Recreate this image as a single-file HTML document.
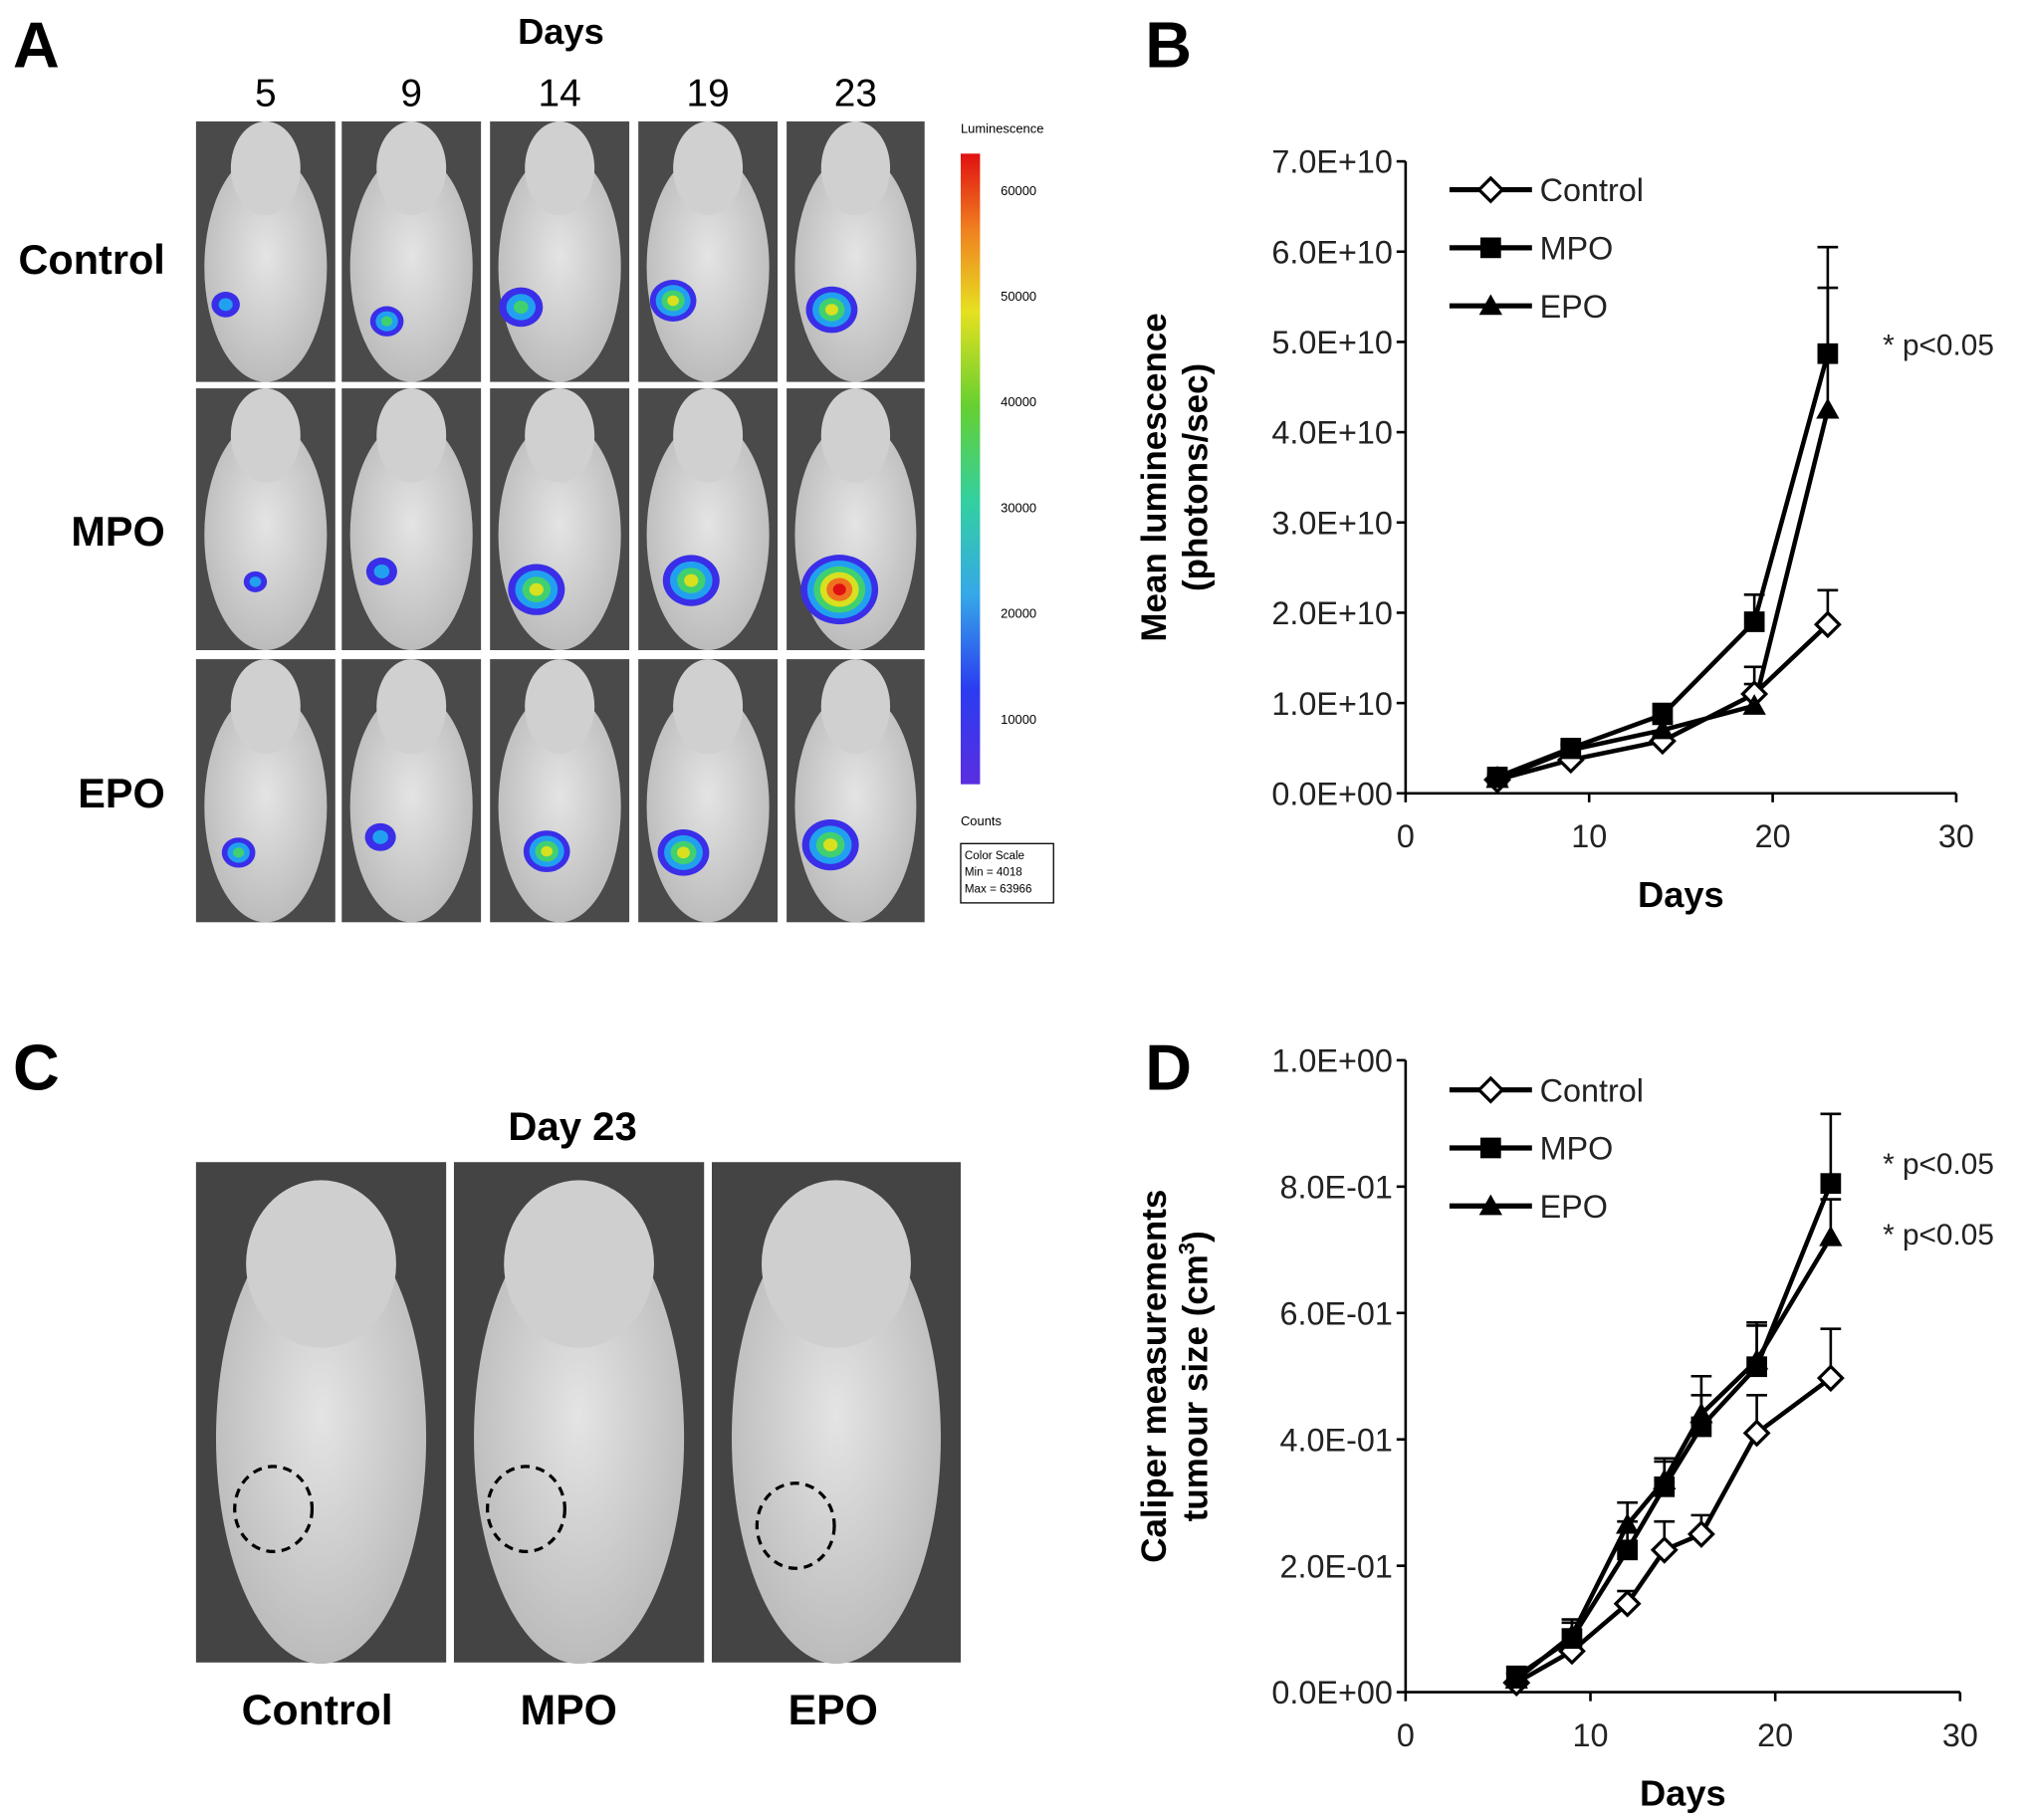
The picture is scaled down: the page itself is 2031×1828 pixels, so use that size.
<!DOCTYPE html>
<html><head><meta charset="utf-8"><style>
html,body{margin:0;padding:0;background:#fff;}
svg{display:block;font-family:"Liberation Sans",Arial,sans-serif;}
</style></head><body>
<svg id="fig" width="2031" height="1828" viewBox="0 0 1568 1411" xmlns="http://www.w3.org/2000/svg">
<defs>
<linearGradient id="cbar" x1="0" y1="1" x2="0" y2="0">
<stop offset="0" stop-color="#5a2ee0"/><stop offset="0.15" stop-color="#2b3cf0"/><stop offset="0.3" stop-color="#35a8e8"/><stop offset="0.45" stop-color="#33d0a0"/><stop offset="0.6" stop-color="#66d030"/><stop offset="0.75" stop-color="#e6e020"/><stop offset="0.88" stop-color="#f08020"/><stop offset="1" stop-color="#e01010"/>
</linearGradient>
<radialGradient id="mouseG" cx="0.5" cy="0.45" r="0.6"><stop offset="0" stop-color="#e4e4e4"/><stop offset="1" stop-color="#b8b8b8"/></radialGradient>
</defs>
<g id="panelA">
<text x="10" y="52" font-size="50" font-weight="bold">A</text>
<text x="435" y="34" font-size="28" font-weight="bold" text-anchor="middle">Days</text>
<g id="aimgs"></g>
<text x="128" y="212" font-size="32" font-weight="bold" text-anchor="end">Control</text>
<text x="128" y="423" font-size="32" font-weight="bold" text-anchor="end">MPO</text>
<text x="128" y="626" font-size="32" font-weight="bold" text-anchor="end">EPO</text>
<text x="745" y="103" font-size="10">Luminescence</text>
<rect x="745" y="119" width="15" height="489" fill="url(#cbar)"/>
<g font-size="10">
<text x="776" y="151">60000</text><text x="776" y="233">50000</text><text x="776" y="315">40000</text><text x="776" y="397">30000</text><text x="776" y="479">20000</text><text x="776" y="561">10000</text>
</g>
<text x="745" y="640" font-size="10">Counts</text>
<rect x="745" y="654" width="72" height="46" fill="#fff" stroke="#000" stroke-width="1"/>
<text x="748" y="666" font-size="9">Color Scale</text><text x="748" y="679" font-size="9">Min = 4018</text><text x="748" y="692" font-size="9">Max = 63966</text>
</g>
<g id="panelC">
<text x="10" y="845" font-size="50" font-weight="bold">C</text>
<text x="444" y="884" font-size="31" font-weight="bold" text-anchor="middle">Day 23</text>
<g id="cimgs"></g>
<text x="246" y="1337" font-size="33" font-weight="bold" text-anchor="middle">Control</text>
<text x="441" y="1337" font-size="33" font-weight="bold" text-anchor="middle">MPO</text>
<text x="646" y="1337" font-size="33" font-weight="bold" text-anchor="middle">EPO</text>
</g>
<g id="chartB">
<text x="888" y="52" font-size="50" font-weight="bold">B</text>
</g>
<g id="chartD">
<text x="888" y="845" font-size="50" font-weight="bold">D</text>
</g>
</svg>
<script>
// ---- Chart B data ----
const bDays = [5, 9, 14, 19, 23];
const bControl = [1.5e9, 3.7e9, 5.8e9, 1.1e10, 1.87e10];
const bControlErr = [0.3e9, 0.4e9, 0.6e9, 1.1e9, 3.8e9];
const bMPO = [1.8e9, 5.0e9, 8.7e9, 1.9e10, 4.87e10];
const bMPOErr = [0.3e9, 0.5e9, 1.2e9, 3.0e9, 1.18e10];
const bEPO = [1.6e9, 4.8e9, 7.0e9, 9.7e9, 4.25e10];
const bEPOErr = [0.3e9, 0.5e9, 0.9e9, 4.3e9, 1.35e10];
const bYTicks = [0, 1e10, 2e10, 3e10, 4e10, 5e10, 6e10, 7e10];
const bYTickLabels = ["0.0E+00","1.0E+10","2.0E+10","3.0E+10","4.0E+10","5.0E+10","6.0E+10","7.0E+10"];
const bXTicks = [0, 10, 20, 30];
// ---- Chart D data ----
const dDays = [6, 9, 12, 14, 16, 19, 23];
const dControl = [0.015, 0.065, 0.14, 0.225, 0.25, 0.41, 0.497];
const dControlErr = [0.015, 0.015, 0.02, 0.045, 0.03, 0.06, 0.078];
const dMPO = [0.025, 0.085, 0.225, 0.325, 0.42, 0.515, 0.805];
const dMPOErr = [0.015, 0.025, 0.045, 0.045, 0.05, 0.065, 0.11];
const dEPO = [0.02, 0.09, 0.265, 0.335, 0.44, 0.525, 0.72];
const dEPOErr = [0.01, 0.025, 0.035, 0.03, 0.06, 0.06, 0.06];
const dYTicks = [0, 0.2, 0.4, 0.6, 0.8, 1.0];
const dYTickLabels = ["0.0E+00","2.0E-01","4.0E-01","6.0E-01","8.0E-01","1.0E+00"];
const dXTicks = [0, 10, 20, 30];

const NS = "http://www.w3.org/2000/svg";
function mk(tag, attrs, parent){ const e=document.createElementNS(NS,tag); for(const k in attrs) e.setAttribute(k,attrs[k]); parent.appendChild(e); return e; }

function drawChart(g, cfg){
  const xs = v => cfg.x0 + (v-cfg.xmin)/(cfg.xmax-cfg.xmin)*(cfg.x1-cfg.x0);
  const ys = v => cfg.y0 - (v-cfg.ymin)/(cfg.ymax-cfg.ymin)*(cfg.y0-cfg.y1);
  let ax = mk("line",{x1:cfg.x0,y1:cfg.y0,x2:cfg.x1,y2:cfg.y0,stroke:"#000","stroke-width":2},g);
   
  let ay = mk("line",{x1:cfg.x0,y1:cfg.y0,x2:cfg.x0,y2:cfg.y1,stroke:"#000","stroke-width":2},g);
   
  cfg.yt.forEach((v,i)=>{
    mk("line",{x1:cfg.x0-7,x2:cfg.x0,y1:ys(v),y2:ys(v),stroke:"#000","stroke-width":2},g);
    const t=mk("text",{x:cfg.x0-10,y:ys(v)+9,"font-size":25,"text-anchor":"end",fill:"#222"},g);
    t.textContent=cfg.ytl[i];
     
  });
  cfg.xt.forEach(v=>{
    mk("line",{x1:xs(v),x2:xs(v),y1:cfg.y0,y2:cfg.y0+7,stroke:"#000","stroke-width":2},g);
    const t=mk("text",{x:xs(v),y:cfg.y0+42,"font-size":25,"text-anchor":"middle",fill:"#222"},g);
    t.textContent=String(v);
     
  });
  const xt=mk("text",{x:(cfg.x0+cfg.x1)/2,y:cfg.y0+88,"font-size":28,"font-weight":"bold","text-anchor":"middle"},g);
  xt.textContent="Days";
   
  const yg=mk("text",{transform:`translate(${cfg.ytx},${(cfg.y0+cfg.y1)/2}) rotate(-90)`,"font-size":27,"font-weight":"bold","text-anchor":"middle"},g);
   
  const l1=mk("tspan",{x:0,y:-16},yg); l1.textContent=cfg.yTitle[0];
  const l2=mk("tspan",{x:0,y:16},yg); l2.innerHTML=cfg.yTitle[1];
  const series=cfg.series;
  series.forEach(s=>{
    s.vals.forEach((v,i)=>{
      const x=xs(cfg.days[i]), yv=ys(v), ye=ys(v+s.err[i]);
      const e=mk("path",{d:`M${x},${yv}V${ye}M${x-8},${ye}H${x+8}`,stroke:"#000","stroke-width":2,fill:"none"},g);
       
    });
  });
  series.forEach(s=>{
    const pts=s.vals.map((v,i)=>xs(cfg.days[i])+","+ys(v)).join(" ");
    const pl=mk("polyline",{points:pts,fill:"none",stroke:"#000","stroke-width":3.5},g);
     
  });
  series.forEach(s=>{
    s.vals.forEach((v,i)=>{
      const m=marker(g,s.type,xs(cfg.days[i]),ys(v));
       
    });
  });
  series.forEach((s,i)=>{
    const ly=cfg.legY+i*45, lx=cfg.legX;
    mk("line",{x1:lx,x2:lx+64,y1:ly,y2:ly,stroke:"#000","stroke-width":4},g);
    const m=marker(g,s.type,lx+32,ly);
     
    const t=mk("text",{x:lx+70,y:ly+9,"font-size":25,fill:"#222"},g);
    t.textContent=s.label;
     
  });
  cfg.notes.forEach(n=>{
    const t=mk("text",{x:n[0],y:n[1],"font-size":23,fill:"#222"},g);
    t.textContent="* p<0.05";
     
  });
}
function marker(g,type,x,y){
  if(type==="diamond") return mk("path",{d:`M${x},${y-9}L${x+9},${y}L${x},${y+9}L${x-9},${y}Z`,fill:"#fff",stroke:"#000","stroke-width":2.5},g);
  if(type==="square") return mk("rect",{x:x-8,y:y-8,width:16,height:16,fill:"#000"},g);
  return mk("path",{d:`M${x},${y-9}L${x+9},${y+7}L${x-9},${y+7}Z`,fill:"#000"},g);
}
drawChart(document.getElementById("chartB"),{
  x0:1090,x1:1517,y0:615,y1:125,xmin:0,xmax:30,ymin:0,ymax:7e10,
  yt:bYTicks,ytl:bYTickLabels,xt:bXTicks,days:bDays,ytx:920,
  yTitle:["Mean luminescence","(photons/sec)"],
  series:[{name:"control",label:"Control",type:"diamond",vals:bControl,err:bControlErr},
          {name:"mpo",label:"MPO",type:"square",vals:bMPO,err:bMPOErr},
          {name:"epo",label:"EPO",type:"triangle",vals:bEPO,err:bEPOErr}],
  legX:1124,legY:147,notes:[[1460,275]]
});
drawChart(document.getElementById("chartD"),{
  x0:1090,x1:1520,y0:1312,y1:822,xmin:0,xmax:30,ymin:0,ymax:1.0,
  yt:dYTicks,ytl:dYTickLabels,xt:dXTicks,days:dDays,ytx:920,
  yTitle:["Caliper measurements","tumour size (cm<tspan font-size='17' dy='-10'>3</tspan><tspan dy='10'>)</tspan>"],
  series:[{name:"control",label:"Control",type:"diamond",vals:dControl,err:dControlErr},
          {name:"mpo",label:"MPO",type:"square",vals:dMPO,err:dMPOErr},
          {name:"epo",label:"EPO",type:"triangle",vals:dEPO,err:dEPOErr}],
  legX:1124,legY:845,notes:[[1460,910],[1460,965]]
});

const colX=[[152,260],[265,373],[380,488],[495,603],[610,717]];
const rowY=[[94,296],[301,504],[511,715]];
const dayLabels=["5","9","14","19","23"];
const spots=[[[175,236,11],[300,249,13],[404,238,17],[522,233,18],[645,240,20]],
             [[198,451,9],[296,443,12],[416,457,22],[536,450,22],[651,457,30]],
             [[185,661,13],[295,649,12],[424,660,18],[530,661,20],[644,655,22]]];
const ga=document.getElementById("aimgs");
colX.forEach((c,ci)=>{
  const t=mk("text",{x:(c[0]+c[1])/2,y:82,"font-size":30,"text-anchor":"middle"},ga);
  t.textContent=dayLabels[ci];
   
});
const spotCols=["#3a2ee8","#22a0f0","#40d070","#d8e020","#f07020","#e01010"];
rowY.forEach((r,ri)=>{colX.forEach((c,ci)=>{
  const w=c[1]-c[0],h=r[1]-r[0],cx=(c[0]+c[1])/2;
  const bg=mk("rect",{x:c[0],y:r[0],width:w,height:h,fill:"#4a4a4a"},ga);
   
  mk("ellipse",{cx:cx,cy:r[0]+h*0.56,rx:w*0.44,ry:h*0.44,fill:"url(#mouseG)"},ga);
  mk("ellipse",{cx:cx,cy:r[0]+h*0.18,rx:w*0.25,ry:h*0.18,fill:"#d0d0d0"},ga);
  const s=spots[ri][ci]; const n=Math.min(6,Math.max(2,Math.round(s[2]/5)));
  for(let k=0;k<n;k++){
    const rr=s[2]*(1-k/n);
    mk("ellipse",{cx:s[0],cy:s[1],rx:rr,ry:rr*0.9,fill:spotCols[k]},ga);
  }
});});
const gc=document.getElementById("cimgs");
const cCols=[[152,346,212,1170],[352,546,408,1170],[552,745,617,1183]];
cCols.forEach(c=>{
  const w=c[1]-c[0],cx=(c[0]+c[1])/2;
  const bg=mk("rect",{x:c[0],y:901,width:w,height:388,fill:"#444"},gc);
   
  mk("ellipse",{cx:cx,cy:1115,rx:w*0.42,ry:175,fill:"url(#mouseG)"},gc);
  mk("ellipse",{cx:cx,cy:980,rx:w*0.3,ry:65,fill:"#cfcfcf"},gc);
  const d=mk("ellipse",{cx:c[2],cy:c[3],rx:30,ry:33,fill:"none",stroke:"#000","stroke-width":2.5,"stroke-dasharray":"7,5"},gc);
   
});
</script>
</body></html>
